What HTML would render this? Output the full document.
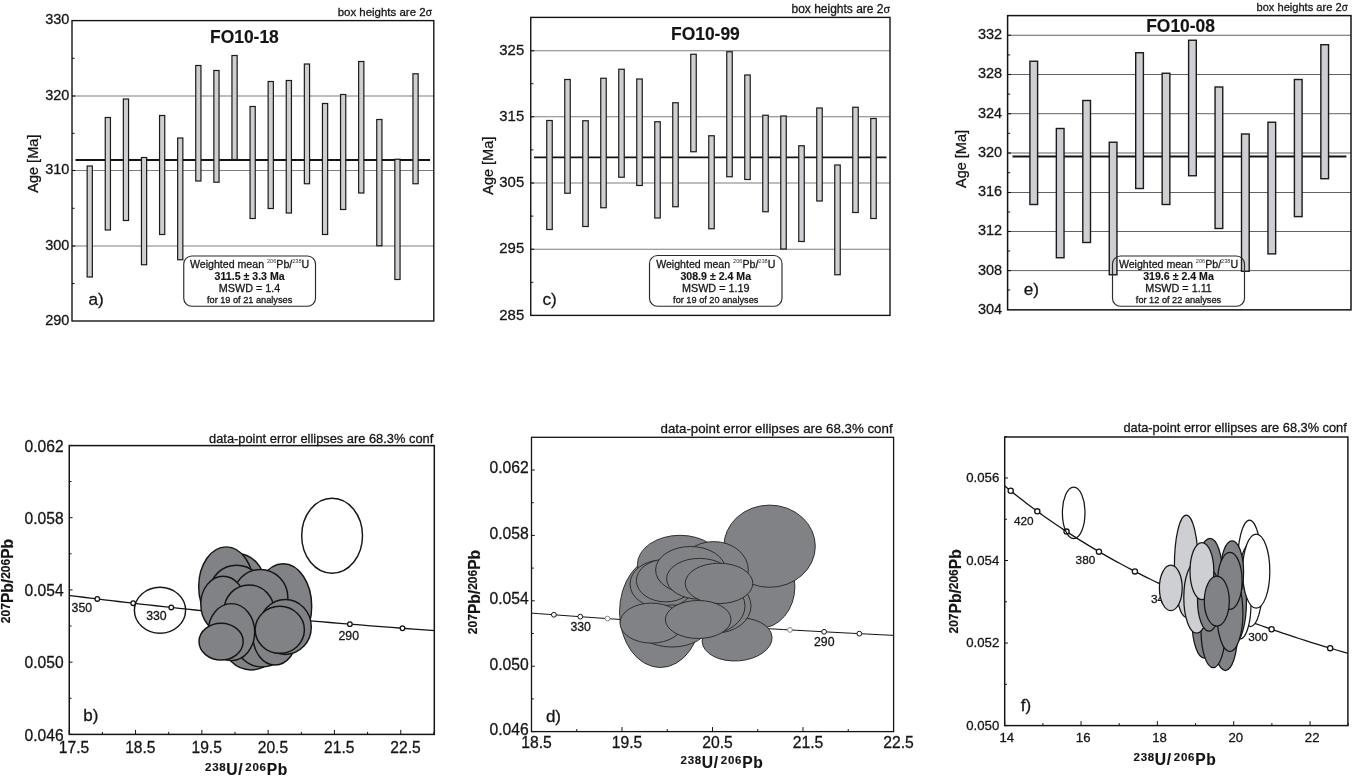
<!DOCTYPE html>
<html lang="en"><head><meta charset="utf-8"><title>U-Pb zircon ages</title>
<style>html,body{margin:0;padding:0;background:#fff}svg{display:block}text{font-family:"Liberation Sans", sans-serif;stroke:#141414;stroke-width:0.28px}text[font-weight="bold"]{stroke-width:0.15px}</style></head><body>
<svg width="1352" height="777" viewBox="0 0 1352 777">
<rect width="1352" height="777" fill="#fff"/>
<g>
<line x1="72" y1="96" x2="433.8" y2="96" stroke="#7e7e7e" stroke-width="1.1"/>
<line x1="72" y1="170.5" x2="433.8" y2="170.5" stroke="#7e7e7e" stroke-width="1.1"/>
<line x1="72" y1="246" x2="433.8" y2="246" stroke="#7e7e7e" stroke-width="1.1"/>
<line x1="72" y1="58.3" x2="74.6" y2="58.3" stroke="#141414" stroke-width="1"/>
<line x1="72" y1="133.3" x2="74.6" y2="133.3" stroke="#141414" stroke-width="1"/>
<line x1="72" y1="208.3" x2="74.6" y2="208.3" stroke="#141414" stroke-width="1"/>
<line x1="72" y1="283.5" x2="74.6" y2="283.5" stroke="#141414" stroke-width="1"/>
<line x1="72" y1="96" x2="75.4" y2="96" stroke="#141414" stroke-width="1.1"/>
<line x1="72" y1="170.5" x2="75.4" y2="170.5" stroke="#141414" stroke-width="1.1"/>
<line x1="72" y1="246" x2="75.4" y2="246" stroke="#141414" stroke-width="1.1"/>
<rect x="183.75" y="256" width="131.75" height="50.25" fill="#fff" stroke="none" stroke-width="1" rx="8"/>
<line x1="75.5" y1="160" x2="430" y2="160" stroke="#141414" stroke-width="1.9"/>
<rect x="87.15" y="166" width="5.2" height="111" fill="#cdcfd2" stroke="#1a1a1a" stroke-width="1.2"/>
<rect x="105.25" y="117.5" width="5.2" height="112.5" fill="#cdcfd2" stroke="#1a1a1a" stroke-width="1.2"/>
<rect x="123.35" y="99" width="5.2" height="121.5" fill="#cdcfd2" stroke="#1a1a1a" stroke-width="1.2"/>
<rect x="141.45" y="157.5" width="5.2" height="107.25" fill="#cdcfd2" stroke="#1a1a1a" stroke-width="1.2"/>
<rect x="159.55" y="115.5" width="5.2" height="119" fill="#cdcfd2" stroke="#1a1a1a" stroke-width="1.2"/>
<rect x="177.65" y="138" width="5.2" height="121.75" fill="#cdcfd2" stroke="#1a1a1a" stroke-width="1.2"/>
<rect x="195.75" y="65.5" width="5.2" height="115.5" fill="#cdcfd2" stroke="#1a1a1a" stroke-width="1.2"/>
<rect x="213.85" y="70.5" width="5.2" height="111.75" fill="#cdcfd2" stroke="#1a1a1a" stroke-width="1.2"/>
<rect x="231.95" y="55.5" width="5.2" height="104" fill="#cdcfd2" stroke="#1a1a1a" stroke-width="1.2"/>
<rect x="250.05" y="106.5" width="5.2" height="112" fill="#cdcfd2" stroke="#1a1a1a" stroke-width="1.2"/>
<rect x="268.15" y="81.5" width="5.2" height="127" fill="#cdcfd2" stroke="#1a1a1a" stroke-width="1.2"/>
<rect x="286.25" y="80.5" width="5.2" height="132.5" fill="#cdcfd2" stroke="#1a1a1a" stroke-width="1.2"/>
<rect x="304.35" y="64" width="5.2" height="119.75" fill="#cdcfd2" stroke="#1a1a1a" stroke-width="1.2"/>
<rect x="322.45" y="103.5" width="5.2" height="131" fill="#cdcfd2" stroke="#1a1a1a" stroke-width="1.2"/>
<rect x="340.55" y="94.5" width="5.2" height="115" fill="#cdcfd2" stroke="#1a1a1a" stroke-width="1.2"/>
<rect x="358.65" y="61.5" width="5.2" height="131.5" fill="#cdcfd2" stroke="#1a1a1a" stroke-width="1.2"/>
<rect x="376.75" y="119.5" width="5.2" height="126.25" fill="#cdcfd2" stroke="#1a1a1a" stroke-width="1.2"/>
<rect x="394.85" y="159.25" width="5.2" height="120.25" fill="#cdcfd2" stroke="#1a1a1a" stroke-width="1.2"/>
<rect x="412.95" y="73.75" width="5.2" height="110" fill="#cdcfd2" stroke="#1a1a1a" stroke-width="1.2"/>
<rect x="72" y="20.6" width="361.8" height="300.4" fill="none" stroke="#141414" stroke-width="1.4"/>
<rect x="183.75" y="256" width="131.75" height="50.25" fill="none" stroke="#2a2a2a" stroke-width="1.15" rx="8"/>
<text x="249.62" y="268" font-size="10.6" text-anchor="middle" fill="#141414">Weighted mean <tspan font-size="5.6" dy="-4.9" stroke="none" fill="#333">206</tspan><tspan dy="4.9">Pb/</tspan><tspan font-size="5.6" dy="-4.9" stroke="none" fill="#333">238</tspan><tspan dy="4.9">U</tspan></text>
<text x="249.62" y="280.4" font-size="10.6" text-anchor="middle" font-weight="bold" fill="#141414">311.5 ± 3.3 Ma</text>
<text x="249.62" y="292.4" font-size="10.8" text-anchor="middle" font-weight="normal" fill="#141414">MSWD = 1.4</text>
<text x="249.62" y="302.8" font-size="9.2" text-anchor="middle" font-weight="normal" fill="#141414">for 19 of 21 analyses</text>
<text x="69.4" y="24.3" font-size="14.5" text-anchor="end" font-weight="normal" fill="#141414">330</text>
<text x="69.4" y="99.8" font-size="14.5" text-anchor="end" font-weight="normal" fill="#141414">320</text>
<text x="69.4" y="174.3" font-size="14.5" text-anchor="end" font-weight="normal" fill="#141414">310</text>
<text x="69.4" y="249.8" font-size="14.5" text-anchor="end" font-weight="normal" fill="#141414">300</text>
<text x="69.4" y="324.8" font-size="14.5" text-anchor="end" font-weight="normal" fill="#141414">290</text>
<text x="244.4" y="43.25" font-size="17.45" text-anchor="middle" font-weight="bold" fill="#141414">FO10-18</text>
<text x="432" y="16" font-size="11.47" text-anchor="end" fill="#141414">box heights are 2<tspan font-size="10.32">σ</tspan></text>
<text x="88.5" y="304.5" font-size="17.2" text-anchor="start" font-weight="normal" fill="#141414">a)</text>
<text transform="translate(38.3 163.7) rotate(-90)" font-size="14.5" text-anchor="middle" fill="#141414">Age [Ma]</text>
</g>
<g>
<line x1="530.75" y1="50.75" x2="890" y2="50.75" stroke="#7e7e7e" stroke-width="1.1"/>
<line x1="530.75" y1="116.75" x2="890" y2="116.75" stroke="#7e7e7e" stroke-width="1.1"/>
<line x1="530.75" y1="183" x2="890" y2="183" stroke="#7e7e7e" stroke-width="1.1"/>
<line x1="530.75" y1="249.25" x2="890" y2="249.25" stroke="#7e7e7e" stroke-width="1.1"/>
<line x1="530.75" y1="83.7" x2="533.35" y2="83.7" stroke="#141414" stroke-width="1"/>
<line x1="530.75" y1="149.9" x2="533.35" y2="149.9" stroke="#141414" stroke-width="1"/>
<line x1="530.75" y1="216.1" x2="533.35" y2="216.1" stroke="#141414" stroke-width="1"/>
<line x1="530.75" y1="282.3" x2="533.35" y2="282.3" stroke="#141414" stroke-width="1"/>
<line x1="530.75" y1="50.75" x2="534.15" y2="50.75" stroke="#141414" stroke-width="1.1"/>
<line x1="530.75" y1="116.75" x2="534.15" y2="116.75" stroke="#141414" stroke-width="1.1"/>
<line x1="530.75" y1="183" x2="534.15" y2="183" stroke="#141414" stroke-width="1.1"/>
<line x1="530.75" y1="249.25" x2="534.15" y2="249.25" stroke="#141414" stroke-width="1.1"/>
<rect x="649.5" y="255.5" width="132.5" height="50.75" fill="#fff" stroke="none" stroke-width="1" rx="8"/>
<line x1="534" y1="157.4" x2="886.5" y2="157.4" stroke="#141414" stroke-width="1.9"/>
<rect x="546.75" y="120.5" width="5.5" height="109" fill="#cdcfd2" stroke="#1a1a1a" stroke-width="1.2"/>
<rect x="564.75" y="79.5" width="5.5" height="113.75" fill="#cdcfd2" stroke="#1a1a1a" stroke-width="1.2"/>
<rect x="582.75" y="120.75" width="5.5" height="105.75" fill="#cdcfd2" stroke="#1a1a1a" stroke-width="1.2"/>
<rect x="600.75" y="78.25" width="5.5" height="129.5" fill="#cdcfd2" stroke="#1a1a1a" stroke-width="1.2"/>
<rect x="618.75" y="69.25" width="5.5" height="108" fill="#cdcfd2" stroke="#1a1a1a" stroke-width="1.2"/>
<rect x="636.75" y="79" width="5.5" height="106.5" fill="#cdcfd2" stroke="#1a1a1a" stroke-width="1.2"/>
<rect x="654.75" y="121.75" width="5.5" height="96.25" fill="#cdcfd2" stroke="#1a1a1a" stroke-width="1.2"/>
<rect x="672.75" y="102.75" width="5.5" height="104" fill="#cdcfd2" stroke="#1a1a1a" stroke-width="1.2"/>
<rect x="690.75" y="54.25" width="5.5" height="97.5" fill="#cdcfd2" stroke="#1a1a1a" stroke-width="1.2"/>
<rect x="708.75" y="135.75" width="5.5" height="93" fill="#cdcfd2" stroke="#1a1a1a" stroke-width="1.2"/>
<rect x="726.75" y="51.75" width="5.5" height="125" fill="#cdcfd2" stroke="#1a1a1a" stroke-width="1.2"/>
<rect x="744.75" y="75" width="5.5" height="104.5" fill="#cdcfd2" stroke="#1a1a1a" stroke-width="1.2"/>
<rect x="762.75" y="115.25" width="5.5" height="96.5" fill="#cdcfd2" stroke="#1a1a1a" stroke-width="1.2"/>
<rect x="780.75" y="116" width="5.5" height="133" fill="#cdcfd2" stroke="#1a1a1a" stroke-width="1.2"/>
<rect x="798.75" y="145.75" width="5.5" height="95.75" fill="#cdcfd2" stroke="#1a1a1a" stroke-width="1.2"/>
<rect x="816.75" y="108" width="5.5" height="93" fill="#cdcfd2" stroke="#1a1a1a" stroke-width="1.2"/>
<rect x="834.75" y="165" width="5.5" height="109.75" fill="#cdcfd2" stroke="#1a1a1a" stroke-width="1.2"/>
<rect x="852.75" y="107.25" width="5.5" height="105.25" fill="#cdcfd2" stroke="#1a1a1a" stroke-width="1.2"/>
<rect x="870.75" y="118.5" width="5.5" height="100" fill="#cdcfd2" stroke="#1a1a1a" stroke-width="1.2"/>
<rect x="530.75" y="17.4" width="359.25" height="298" fill="none" stroke="#141414" stroke-width="1.4"/>
<rect x="649.5" y="255.5" width="132.5" height="50.75" fill="none" stroke="#2a2a2a" stroke-width="1.15" rx="8"/>
<text x="715.75" y="267.75" font-size="10.6" text-anchor="middle" fill="#141414">Weighted mean <tspan font-size="5.6" dy="-4.9" stroke="none" fill="#333">206</tspan><tspan dy="4.9">Pb/</tspan><tspan font-size="5.6" dy="-4.9" stroke="none" fill="#333">238</tspan><tspan dy="4.9">U</tspan></text>
<text x="715.75" y="280.05" font-size="10.6" text-anchor="middle" font-weight="bold" fill="#141414">308.9 ± 2.4 Ma</text>
<text x="715.75" y="292.15" font-size="10.8" text-anchor="middle" font-weight="normal" fill="#141414">MSWD = 1.19</text>
<text x="715.75" y="302.8" font-size="9.2" text-anchor="middle" font-weight="normal" fill="#141414">for 19 of 20 analyses</text>
<text x="524.2" y="54.85" font-size="14.9" text-anchor="end" font-weight="normal" fill="#141414">325</text>
<text x="524.2" y="120.85" font-size="14.9" text-anchor="end" font-weight="normal" fill="#141414">315</text>
<text x="524.2" y="187.1" font-size="14.9" text-anchor="end" font-weight="normal" fill="#141414">305</text>
<text x="524.2" y="253.35" font-size="14.9" text-anchor="end" font-weight="normal" fill="#141414">295</text>
<text x="524.2" y="319.5" font-size="14.9" text-anchor="end" font-weight="normal" fill="#141414">285</text>
<text x="705.4" y="40" font-size="17.45" text-anchor="middle" font-weight="bold" fill="#141414">FO10-99</text>
<text x="890.2" y="13.3" font-size="12" text-anchor="end" fill="#141414">box heights are 2<tspan font-size="10.8">σ</tspan></text>
<text x="542.5" y="305" font-size="17.2" text-anchor="start" font-weight="normal" fill="#141414">c)</text>
<text transform="translate(492.5 165.75) rotate(-90)" font-size="14.5" text-anchor="middle" fill="#141414">Age [Ma]</text>
</g>
<g>
<line x1="1007.6" y1="35.25" x2="1351" y2="35.25" stroke="#5a5a5a" stroke-width="0.95"/>
<line x1="1007.6" y1="74.5" x2="1351" y2="74.5" stroke="#5a5a5a" stroke-width="0.95"/>
<line x1="1007.6" y1="113.7" x2="1351" y2="113.7" stroke="#5a5a5a" stroke-width="0.95"/>
<line x1="1007.6" y1="153" x2="1351" y2="153" stroke="#5a5a5a" stroke-width="0.95"/>
<line x1="1007.6" y1="192.5" x2="1351" y2="192.5" stroke="#5a5a5a" stroke-width="0.95"/>
<line x1="1007.6" y1="231.5" x2="1351" y2="231.5" stroke="#5a5a5a" stroke-width="0.95"/>
<line x1="1007.6" y1="270.6" x2="1351" y2="270.6" stroke="#5a5a5a" stroke-width="0.95"/>
<line x1="1007.6" y1="54.9" x2="1010.2" y2="54.9" stroke="#141414" stroke-width="1"/>
<line x1="1007.6" y1="94.1" x2="1010.2" y2="94.1" stroke="#141414" stroke-width="1"/>
<line x1="1007.6" y1="133.3" x2="1010.2" y2="133.3" stroke="#141414" stroke-width="1"/>
<line x1="1007.6" y1="172.7" x2="1010.2" y2="172.7" stroke="#141414" stroke-width="1"/>
<line x1="1007.6" y1="212" x2="1010.2" y2="212" stroke="#141414" stroke-width="1"/>
<line x1="1007.6" y1="251" x2="1010.2" y2="251" stroke="#141414" stroke-width="1"/>
<line x1="1007.6" y1="290" x2="1010.2" y2="290" stroke="#141414" stroke-width="1"/>
<line x1="1007.6" y1="35.25" x2="1011" y2="35.25" stroke="#141414" stroke-width="1.1"/>
<line x1="1007.6" y1="74.5" x2="1011" y2="74.5" stroke="#141414" stroke-width="1.1"/>
<line x1="1007.6" y1="113.7" x2="1011" y2="113.7" stroke="#141414" stroke-width="1.1"/>
<line x1="1007.6" y1="153" x2="1011" y2="153" stroke="#141414" stroke-width="1.1"/>
<line x1="1007.6" y1="192.5" x2="1011" y2="192.5" stroke="#141414" stroke-width="1.1"/>
<line x1="1007.6" y1="231.5" x2="1011" y2="231.5" stroke="#141414" stroke-width="1.1"/>
<line x1="1007.6" y1="270.6" x2="1011" y2="270.6" stroke="#141414" stroke-width="1.1"/>
<rect x="1112.5" y="256" width="132" height="50.25" fill="none" stroke="none" stroke-width="1" rx="8"/>
<line x1="1012.5" y1="156.5" x2="1346.4" y2="156.5" stroke="#141414" stroke-width="1.9"/>
<rect x="1029.9" y="61.25" width="7.7" height="143.25" fill="#cdcfd2" stroke="#1a1a1a" stroke-width="1.4"/>
<rect x="1056.35" y="128.5" width="7.7" height="129.25" fill="#cdcfd2" stroke="#1a1a1a" stroke-width="1.4"/>
<rect x="1082.8" y="100.5" width="7.7" height="142" fill="#cdcfd2" stroke="#1a1a1a" stroke-width="1.4"/>
<rect x="1109.25" y="142.25" width="7.7" height="132.5" fill="#cdcfd2" stroke="#1a1a1a" stroke-width="1.4"/>
<rect x="1135.7" y="52.75" width="7.7" height="135.75" fill="#cdcfd2" stroke="#1a1a1a" stroke-width="1.4"/>
<rect x="1162.15" y="73.25" width="7.7" height="131.25" fill="#cdcfd2" stroke="#1a1a1a" stroke-width="1.4"/>
<rect x="1188.6" y="40.25" width="7.7" height="135.5" fill="#cdcfd2" stroke="#1a1a1a" stroke-width="1.4"/>
<rect x="1215.05" y="87" width="7.7" height="141.5" fill="#cdcfd2" stroke="#1a1a1a" stroke-width="1.4"/>
<rect x="1241.5" y="134" width="7.7" height="137.25" fill="#cdcfd2" stroke="#1a1a1a" stroke-width="1.4"/>
<rect x="1267.95" y="122.25" width="7.7" height="131.65" fill="#cdcfd2" stroke="#1a1a1a" stroke-width="1.4"/>
<rect x="1294.4" y="79.5" width="7.7" height="137.1" fill="#cdcfd2" stroke="#1a1a1a" stroke-width="1.4"/>
<rect x="1320.85" y="44.7" width="7.7" height="134" fill="#cdcfd2" stroke="#1a1a1a" stroke-width="1.4"/>
<rect x="1007.6" y="15.6" width="343.4" height="294.25" fill="none" stroke="#141414" stroke-width="1.5"/>
<rect x="1112.5" y="256" width="132" height="50.25" fill="none" stroke="#2a2a2a" stroke-width="1.15" rx="8"/>
<text x="1178.5" y="268" font-size="10.6" text-anchor="middle" fill="#141414">Weighted mean <tspan font-size="5.6" dy="-4.9" stroke="none" fill="#333">206</tspan><tspan dy="4.9">Pb/</tspan><tspan font-size="5.6" dy="-4.9" stroke="none" fill="#333">238</tspan><tspan dy="4.9">U</tspan></text>
<text x="1178.5" y="280.05" font-size="10.6" text-anchor="middle" font-weight="bold" fill="#141414">319.6 ± 2.4 Ma</text>
<text x="1178.5" y="292.4" font-size="10.8" text-anchor="middle" font-weight="normal" fill="#141414">MSWD = 1.11</text>
<text x="1178.5" y="303.3" font-size="9.2" text-anchor="middle" font-weight="normal" fill="#141414">for 12 of 22 analyses</text>
<text x="1002.2" y="39.15" font-size="14.5" text-anchor="end" font-weight="normal" fill="#141414">332</text>
<text x="1002.2" y="78.4" font-size="14.5" text-anchor="end" font-weight="normal" fill="#141414">328</text>
<text x="1002.2" y="117.6" font-size="14.5" text-anchor="end" font-weight="normal" fill="#141414">324</text>
<text x="1002.2" y="156.9" font-size="14.5" text-anchor="end" font-weight="normal" fill="#141414">320</text>
<text x="1002.2" y="196.4" font-size="14.5" text-anchor="end" font-weight="normal" fill="#141414">316</text>
<text x="1002.2" y="235.4" font-size="14.5" text-anchor="end" font-weight="normal" fill="#141414">312</text>
<text x="1002.2" y="274.5" font-size="14.5" text-anchor="end" font-weight="normal" fill="#141414">308</text>
<text x="1002.2" y="313.75" font-size="14.5" text-anchor="end" font-weight="normal" fill="#141414">304</text>
<text x="1180.6" y="32" font-size="17.45" text-anchor="middle" font-weight="bold" fill="#141414">FO10-08</text>
<text x="1347.8" y="10.5" font-size="11.1" text-anchor="end" fill="#141414">box heights are 2<tspan font-size="9.99">σ</tspan></text>
<text x="1023.75" y="295" font-size="17.2" text-anchor="start" font-weight="normal" fill="#141414">e)</text>
<text transform="translate(966 159) rotate(-90)" font-size="14.5" text-anchor="middle" fill="#141414">Age [Ma]</text>
</g>
<g>
<clipPath id="clipb"><rect x="69.25" y="445.6" width="365.05" height="288.8"/></clipPath>
<path d="M1013.01 660.2 L991.85 659.42 L971.11 658.64 L950.77 657.86 L930.82 657.08 L911.26 656.29 L892.06 655.51 L873.22 654.72 L854.73 653.94 L836.57 653.15 L818.75 652.36 L801.25 651.57 L784.07 650.78 L767.18 649.99 L750.59 649.19 L734.3 648.4 L718.28 647.61 L702.53 646.81 L687.06 646.01 L671.84 645.22 L656.88 644.42 L642.16 643.62 L627.69 642.82 L613.45 642.02 L599.44 641.22 L585.65 640.41 L572.09 639.61 L558.73 638.8 L545.59 638 L532.65 637.19 L519.91 636.38 L507.36 635.57 L495.01 634.76 L482.83 633.95 L470.85 633.14 L459.03 632.32 L447.4 631.51 L435.93 630.7 L424.63 629.88 L413.49 629.06 L402.51 628.24 L391.68 627.42 L381.01 626.6 L370.49 625.78 L360.12 624.96 L349.88 624.14 L339.79 623.31 L329.83 622.49 L320.01 621.66 L310.32 620.83 L300.76 620 L291.33 619.18 L282.02 618.34 L272.84 617.51 L263.77 616.68 L254.82 615.85 L245.98 615.01 L237.26 614.18 L228.64 613.34 L220.14 612.5 L211.74 611.66 L203.45 610.82 L195.26 609.98 L187.16 609.14 L179.17 608.3 L171.28 607.45 L163.48 606.61 L155.77 605.76 L148.15 604.92 L140.63 604.07 L133.19 603.22 L125.84 602.37 L118.58 601.52 L111.4 600.67 L104.3 599.81 L97.28 598.96 L90.35 598.1 L83.49 597.25 L76.71 596.39 L70 595.53 L63.37 594.67 L56.82 593.81 L50.33 592.95 L43.92 592.08 L37.57 591.22 L31.29 590.35 L25.09 589.49 L18.94 588.62 L12.87 587.75 L6.85 586.88 L0.91 586.01 L-4.98 585.14 L-10.81 584.27 L-16.57 583.39 L-22.28 582.52 L-27.93 581.64 L-33.51 580.77 L-39.05 579.89 L-44.52 579.01 L-49.95 578.13 L-55.31 577.25 L-60.63 576.37 L-65.89 575.48 L-71.1 574.6 L-76.26 573.71 L-81.37 572.82 L-86.42 571.94 L-91.43 571.05 L-96.4 570.16 L-101.31 569.27 L-106.18 568.37 L-111 567.48 L-115.77 566.59 L-120.5 565.69 L-125.19 564.79 L-129.83 563.89 L-134.43 563 L-138.99 562.1 L-143.51 561.19 L-147.98 560.29 L-152.42 559.39 L-156.81 558.48 L-161.16 557.58 L-165.48 556.67 L-169.75 555.76 L-173.99 554.85 L-178.19 553.94 L-182.36 553.03 L-186.48 552.12 L-190.58 551.2 L-194.63 550.29 L-198.65 549.37 L-202.64 548.46 L-206.59 547.54 L-210.51 546.62 L-214.39 545.7 L-218.24 544.78 L-222.06 543.85 L-225.85 542.93 L-229.6 542 L-233.33 541.08 L-237.02 540.15 L-240.68 539.22 L-244.32 538.29 L-247.92 537.36 L-251.49 536.43 L-255.03 535.49 L-258.55 534.56 L-262.04 533.62 L-265.5 532.69 L-268.93 531.75 L-272.33 530.81 L-275.71 529.87 L-279.06 528.93 L-282.38 527.99 L-285.68 527.04 L-288.95 526.1 L-292.2 525.15 L-295.42 524.2 L-298.61 523.25 L-301.79 522.3" fill="none" stroke="#141414" stroke-width="1.3" clip-path="url(#clipb)"/>
<g clip-path="url(#clipb)">
<circle cx="97.28" cy="598.96" r="2.3" fill="#fff" stroke="#141414" stroke-width="1.3"/>
<circle cx="133.19" cy="603.22" r="2.3" fill="#fff" stroke="#141414" stroke-width="1.3"/>
<circle cx="171.28" cy="607.45" r="2.3" fill="#fff" stroke="#141414" stroke-width="1.3"/>
<circle cx="211.74" cy="611.66" r="2.3" fill="#fff" stroke="#141414" stroke-width="1.3"/>
<circle cx="254.82" cy="615.85" r="2.3" fill="#fff" stroke="#141414" stroke-width="1.3"/>
<circle cx="300.76" cy="620" r="2.3" fill="#fff" stroke="#141414" stroke-width="1.3"/>
<circle cx="349.88" cy="624.14" r="2.3" fill="#fff" stroke="#141414" stroke-width="1.3"/>
<circle cx="402.51" cy="628.24" r="2.3" fill="#fff" stroke="#141414" stroke-width="1.3"/>
</g>
<text x="71.6" y="611.6" font-size="12.3" text-anchor="start" font-weight="normal" fill="#141414">350</text>
<text x="146.2" y="619.9" font-size="12.3" text-anchor="start" font-weight="normal" fill="#141414">330</text>
<text x="338.5" y="639.8" font-size="12.3" text-anchor="start" font-weight="normal" fill="#141414">290</text>
<ellipse cx="332.1" cy="535.75" rx="30.4" ry="37.5" fill="none" stroke="#151515" stroke-width="1.45"/>
<ellipse cx="160" cy="610.25" rx="25.6" ry="23" fill="none" stroke="#151515" stroke-width="1.45"/>
<ellipse cx="236.6" cy="583.5" rx="28" ry="30" fill="#808285" stroke="#151515" stroke-width="1.45"/>
<ellipse cx="226.2" cy="586.6" rx="27.5" ry="39.7" fill="#808285" stroke="#151515" stroke-width="1.45"/>
<ellipse cx="283.2" cy="606.3" rx="28.5" ry="42.5" fill="#808285" stroke="#151515" stroke-width="1.45"/>
<ellipse cx="236.6" cy="589.7" rx="26" ry="24.5" fill="#808285" stroke="#151515" stroke-width="1.45"/>
<ellipse cx="260.4" cy="598" rx="27.5" ry="28.5" fill="#808285" stroke="#151515" stroke-width="1.45"/>
<ellipse cx="251.1" cy="641.4" rx="28" ry="28.5" fill="#808285" stroke="#151515" stroke-width="1.45"/>
<ellipse cx="262" cy="640" rx="27" ry="27" fill="#808285" stroke="#151515" stroke-width="1.45"/>
<ellipse cx="275" cy="636" rx="22" ry="29" fill="#808285" stroke="#151515" stroke-width="1.45"/>
<ellipse cx="223.1" cy="604.2" rx="22.3" ry="28" fill="#808285" stroke="#151515" stroke-width="1.45"/>
<ellipse cx="249" cy="610.4" rx="25" ry="25.5" fill="#808285" stroke="#151515" stroke-width="1.45"/>
<ellipse cx="285.3" cy="626.9" rx="26" ry="27.5" fill="#808285" stroke="#151515" stroke-width="1.45"/>
<ellipse cx="231.4" cy="632.1" rx="23.3" ry="28.5" fill="#808285" stroke="#151515" stroke-width="1.45"/>
<ellipse cx="279.8" cy="629.8" rx="24.6" ry="23.5" fill="#808285" stroke="#151515" stroke-width="1.45"/>
<ellipse cx="221.1" cy="641.6" rx="22.1" ry="18.4" fill="#808285" stroke="#151515" stroke-width="1.45"/>
<line x1="69.25" y1="734.4" x2="69.25" y2="729.9" stroke="#141414" stroke-width="1"/>
<line x1="102.4" y1="734.4" x2="102.4" y2="731.9" stroke="#141414" stroke-width="1"/>
<line x1="135.55" y1="734.4" x2="135.55" y2="729.9" stroke="#141414" stroke-width="1"/>
<line x1="168.7" y1="734.4" x2="168.7" y2="731.9" stroke="#141414" stroke-width="1"/>
<line x1="201.85" y1="734.4" x2="201.85" y2="729.9" stroke="#141414" stroke-width="1"/>
<line x1="235" y1="734.4" x2="235" y2="731.9" stroke="#141414" stroke-width="1"/>
<line x1="268.15" y1="734.4" x2="268.15" y2="729.9" stroke="#141414" stroke-width="1"/>
<line x1="301.3" y1="734.4" x2="301.3" y2="731.9" stroke="#141414" stroke-width="1"/>
<line x1="334.45" y1="734.4" x2="334.45" y2="729.9" stroke="#141414" stroke-width="1"/>
<line x1="367.6" y1="734.4" x2="367.6" y2="731.9" stroke="#141414" stroke-width="1"/>
<line x1="400.75" y1="734.4" x2="400.75" y2="729.9" stroke="#141414" stroke-width="1"/>
<line x1="433.9" y1="734.4" x2="433.9" y2="731.9" stroke="#141414" stroke-width="1"/>
<line x1="69.25" y1="734.4" x2="72.55" y2="734.4" stroke="#141414" stroke-width="1"/>
<line x1="69.25" y1="698.27" x2="71.55" y2="698.27" stroke="#141414" stroke-width="1"/>
<line x1="69.25" y1="662.15" x2="72.55" y2="662.15" stroke="#141414" stroke-width="1"/>
<line x1="69.25" y1="626.02" x2="71.55" y2="626.02" stroke="#141414" stroke-width="1"/>
<line x1="69.25" y1="589.9" x2="72.55" y2="589.9" stroke="#141414" stroke-width="1"/>
<line x1="69.25" y1="553.77" x2="71.55" y2="553.77" stroke="#141414" stroke-width="1"/>
<line x1="69.25" y1="517.65" x2="72.55" y2="517.65" stroke="#141414" stroke-width="1"/>
<line x1="69.25" y1="481.52" x2="71.55" y2="481.52" stroke="#141414" stroke-width="1"/>
<line x1="69.25" y1="445.4" x2="72.55" y2="445.4" stroke="#141414" stroke-width="1"/>
<rect x="69.25" y="445.6" width="365.05" height="288.8" fill="none" stroke="#141414" stroke-width="1.5"/>
<text x="74.05" y="753" font-size="15.6" text-anchor="middle" font-weight="normal" fill="#141414">17.5</text>
<text x="140.35" y="753" font-size="15.6" text-anchor="middle" font-weight="normal" fill="#141414">18.5</text>
<text x="206.65" y="753" font-size="15.6" text-anchor="middle" font-weight="normal" fill="#141414">19.5</text>
<text x="272.95" y="753" font-size="15.6" text-anchor="middle" font-weight="normal" fill="#141414">20.5</text>
<text x="339.25" y="753" font-size="15.6" text-anchor="middle" font-weight="normal" fill="#141414">21.5</text>
<text x="405.55" y="753" font-size="15.6" text-anchor="middle" font-weight="normal" fill="#141414">22.5</text>
<text x="63.6" y="451.5" font-size="15.6" text-anchor="end" font-weight="normal" fill="#141414">0.062</text>
<text x="63.6" y="523.75" font-size="15.6" text-anchor="end" font-weight="normal" fill="#141414">0.058</text>
<text x="63.6" y="596" font-size="15.6" text-anchor="end" font-weight="normal" fill="#141414">0.054</text>
<text x="63.6" y="668.25" font-size="15.6" text-anchor="end" font-weight="normal" fill="#141414">0.050</text>
<text x="63.6" y="740.5" font-size="15.6" text-anchor="end" font-weight="normal" fill="#141414">0.046</text>
<text x="433.25" y="442.5" font-size="12.85" text-anchor="end" font-weight="normal" fill="#141414">data-point error ellipses are 68.3% conf</text>
<text x="83.25" y="721.25" font-size="17" text-anchor="start" font-weight="normal" fill="#141414">b)</text>
<text x="246.5" y="774.9" font-size="15.6" font-weight="bold" text-anchor="middle" fill="#141414" letter-spacing="0.7"><tspan font-size="11.5" dy="-4.2">238</tspan><tspan dy="4.2">U/</tspan><tspan font-size="11.5" dy="-4.2" dx="2">206</tspan><tspan dy="4.2">Pb</tspan></text>
<text transform="translate(13 581) rotate(-90)" font-size="15.6" font-weight="bold" text-anchor="middle" fill="#141414" letter-spacing="0"><tspan font-size="12" dy="-3.5">207</tspan><tspan dy="3.5">Pb/</tspan><tspan font-size="12" dy="-3.5">206</tspan><tspan dy="3.5">Pb</tspan></text>
</g>
<g>
<clipPath id="clipd"><rect x="531.5" y="437.3" width="362.1" height="294.3"/></clipPath>
<path d="M1729.24 664.44 L1700.36 663.73 L1672.04 663.02 L1644.28 662.32 L1617.05 661.61 L1590.34 660.9 L1564.14 660.19 L1538.42 659.48 L1513.18 658.76 L1488.4 658.05 L1464.08 657.34 L1440.19 656.62 L1416.73 655.91 L1393.68 655.19 L1371.04 654.47 L1348.79 653.75 L1326.93 653.04 L1305.44 652.32 L1284.31 651.59 L1263.54 650.87 L1243.12 650.15 L1223.03 649.43 L1203.27 648.7 L1183.83 647.98 L1164.71 647.25 L1145.89 646.52 L1127.38 645.8 L1109.15 645.07 L1091.21 644.34 L1073.54 643.61 L1056.15 642.87 L1039.03 642.14 L1022.16 641.41 L1005.55 640.67 L989.18 639.94 L973.06 639.2 L957.17 638.47 L941.52 637.73 L926.09 636.99 L910.89 636.25 L895.9 635.51 L881.13 634.77 L866.56 634.02 L852.2 633.28 L838.03 632.54 L824.07 631.79 L810.29 631.04 L796.7 630.3 L783.29 629.55 L770.07 628.8 L757.02 628.05 L744.14 627.3 L731.44 626.55 L718.9 625.8 L706.52 625.04 L694.3 624.29 L682.24 623.53 L670.33 622.78 L658.57 622.02 L646.96 621.26 L635.5 620.5 L624.18 619.74 L613 618.98 L601.95 618.22 L591.04 617.45 L580.27 616.69 L569.62 615.93 L559.1 615.16 L548.7 614.39 L538.43 613.63 L528.28 612.86 L518.25 612.09 L508.33 611.32 L498.53 610.54 L488.85 609.77 L479.27 609 L469.8 608.22 L460.44 607.45 L451.18 606.67 L442.03 605.9 L432.98 605.12 L424.03 604.34 L415.17 603.56 L406.42 602.78 L397.76 601.99 L389.19 601.21 L380.72 600.43 L372.33 599.64 L364.04 598.86 L355.83 598.07 L347.71 597.28 L339.67 596.49 L331.72 595.7 L323.85 594.91 L316.06 594.12 L308.35 593.33 L300.73 592.53 L293.17 591.74 L285.7 590.94 L278.3 590.15 L270.97 589.35 L263.72 588.55 L256.53 587.75 L249.42 586.95 L242.38 586.15 L235.41 585.34 L228.5 584.54 L221.66 583.73 L214.89 582.93 L208.18 582.12 L201.54 581.31 L194.96 580.51 L188.44 579.7 L181.98 578.89 L175.59 578.07 L169.25 577.26 L162.97 576.45 L156.75 575.63 L150.58 574.82 L144.48 574 L138.42 573.18 L132.43 572.36 L126.48 571.54 L120.59 570.72 L114.76 569.9 L108.97 569.08 L103.24 568.25 L97.55 567.43 L91.92 566.6 L86.34 565.77 L80.8 564.95 L75.31 564.12 L69.87 563.29 L64.48 562.45 L59.13 561.62 L53.83 560.79 L48.57 559.95 L43.36 559.12 L38.19 558.28 L33.06 557.44 L27.98 556.61 L22.94 555.77 L17.94 554.93 L12.98 554.08 L8.06 553.24 L3.19 552.4 L-1.65 551.55 L-6.45 550.71 L-11.21 549.86 L-15.93 549.01 L-20.61 548.16 L-25.26 547.31 L-29.87 546.46 L-34.44 545.61 L-38.98 544.76 L-43.48 543.9 L-47.95 543.05 L-52.38 542.19 L-56.78 541.33 L-61.14 540.47 L-65.47 539.61" fill="none" stroke="#141414" stroke-width="1" clip-path="url(#clipd)"/>
<g clip-path="url(#clipd)">
<circle cx="528.28" cy="612.86" r="2.4" fill="#fff" stroke="#141414" stroke-width="1"/>
<circle cx="553.89" cy="614.78" r="2.4" fill="#fff" stroke="#141414" stroke-width="1"/>
<circle cx="580.27" cy="616.69" r="2.4" fill="#fff" stroke="#141414" stroke-width="1"/>
<circle cx="607.46" cy="618.6" r="2.4" fill="#fff" stroke="#888" stroke-width="1"/>
<circle cx="635.5" cy="620.5" r="2.4" fill="#fff" stroke="#888" stroke-width="1"/>
<circle cx="664.43" cy="622.4" r="2.4" fill="#fff" stroke="#888" stroke-width="1"/>
<circle cx="694.3" cy="624.29" r="2.4" fill="#fff" stroke="#888" stroke-width="1"/>
<circle cx="725.15" cy="626.17" r="2.4" fill="#fff" stroke="#888" stroke-width="1"/>
<circle cx="757.02" cy="628.05" r="2.4" fill="#fff" stroke="#888" stroke-width="1"/>
<circle cx="789.97" cy="629.92" r="2.4" fill="#fff" stroke="#888" stroke-width="1"/>
<circle cx="824.07" cy="631.79" r="2.4" fill="#fff" stroke="#141414" stroke-width="1"/>
<circle cx="859.35" cy="633.65" r="2.4" fill="#fff" stroke="#141414" stroke-width="1"/>
<circle cx="895.9" cy="635.51" r="2.4" fill="#fff" stroke="#141414" stroke-width="1"/>
</g>
<text x="570.4" y="631" font-size="12.3" text-anchor="start" font-weight="normal" fill="#141414">330</text>
<text x="814" y="646.2" font-size="12.3" text-anchor="start" font-weight="normal" fill="#141414">290</text>
<ellipse cx="660.4" cy="612" rx="40.9" ry="55.5" fill="#808285" stroke="#2a2a2a" stroke-width="0.95"/>
<ellipse cx="759.9" cy="586.6" rx="35" ry="41.7" fill="#808285" stroke="#2a2a2a" stroke-width="0.95"/>
<ellipse cx="769.6" cy="546.2" rx="45.7" ry="41.1" fill="#808285" stroke="#2a2a2a" stroke-width="0.95"/>
<ellipse cx="737.1" cy="639.4" rx="35" ry="21.5" fill="#808285" stroke="#2a2a2a" stroke-width="0.95" transform="rotate(-4 737.1 639.4)"/>
<ellipse cx="680" cy="564.6" rx="42.6" ry="29.3" fill="#808285" stroke="#2a2a2a" stroke-width="0.95"/>
<ellipse cx="713.7" cy="570" rx="34.6" ry="28.4" fill="#808285" stroke="#2a2a2a" stroke-width="0.95"/>
<ellipse cx="716" cy="606" rx="35" ry="27" fill="#808285" stroke="#2a2a2a" stroke-width="0.95"/>
<ellipse cx="708" cy="606" rx="37" ry="28" fill="#808285" stroke="#2a2a2a" stroke-width="0.95"/>
<ellipse cx="662" cy="584" rx="32" ry="24" fill="#808285" stroke="#2a2a2a" stroke-width="0.95"/>
<ellipse cx="665.7" cy="580.6" rx="29.3" ry="21.3" fill="#808285" stroke="#2a2a2a" stroke-width="0.95"/>
<ellipse cx="690.6" cy="570" rx="35" ry="23.5" fill="#808285" stroke="#2a2a2a" stroke-width="0.95"/>
<ellipse cx="699.5" cy="578.8" rx="32.9" ry="20.4" fill="#808285" stroke="#2a2a2a" stroke-width="0.95"/>
<ellipse cx="672" cy="626" rx="36" ry="21" fill="#808285" stroke="#2a2a2a" stroke-width="0.95"/>
<ellipse cx="719" cy="583.4" rx="33.8" ry="20.2" fill="#808285" stroke="#2a2a2a" stroke-width="0.95"/>
<ellipse cx="651.5" cy="623.1" rx="31.5" ry="20" fill="#808285" stroke="#2a2a2a" stroke-width="0.95"/>
<ellipse cx="698.2" cy="619.5" rx="32.8" ry="19" fill="#808285" stroke="#2a2a2a" stroke-width="0.95"/>
<line x1="531.5" y1="731.6" x2="531.5" y2="727.1" stroke="#141414" stroke-width="1"/>
<line x1="576.75" y1="731.6" x2="576.75" y2="729.1" stroke="#141414" stroke-width="1"/>
<line x1="622" y1="731.6" x2="622" y2="727.1" stroke="#141414" stroke-width="1"/>
<line x1="667.25" y1="731.6" x2="667.25" y2="729.1" stroke="#141414" stroke-width="1"/>
<line x1="712.5" y1="731.6" x2="712.5" y2="727.1" stroke="#141414" stroke-width="1"/>
<line x1="757.75" y1="731.6" x2="757.75" y2="729.1" stroke="#141414" stroke-width="1"/>
<line x1="803" y1="731.6" x2="803" y2="727.1" stroke="#141414" stroke-width="1"/>
<line x1="848.25" y1="731.6" x2="848.25" y2="729.1" stroke="#141414" stroke-width="1"/>
<line x1="893.5" y1="731.6" x2="893.5" y2="727.1" stroke="#141414" stroke-width="1"/>
<line x1="531.5" y1="731.6" x2="534.8" y2="731.6" stroke="#141414" stroke-width="1"/>
<line x1="531.5" y1="698.9" x2="533.8" y2="698.9" stroke="#141414" stroke-width="1"/>
<line x1="531.5" y1="666.2" x2="534.8" y2="666.2" stroke="#141414" stroke-width="1"/>
<line x1="531.5" y1="633.5" x2="533.8" y2="633.5" stroke="#141414" stroke-width="1"/>
<line x1="531.5" y1="600.8" x2="534.8" y2="600.8" stroke="#141414" stroke-width="1"/>
<line x1="531.5" y1="568.1" x2="533.8" y2="568.1" stroke="#141414" stroke-width="1"/>
<line x1="531.5" y1="535.4" x2="534.8" y2="535.4" stroke="#141414" stroke-width="1"/>
<line x1="531.5" y1="502.7" x2="533.8" y2="502.7" stroke="#141414" stroke-width="1"/>
<line x1="531.5" y1="470" x2="534.8" y2="470" stroke="#141414" stroke-width="1"/>
<rect x="531.5" y="437.3" width="362.1" height="294.3" fill="none" stroke="#141414" stroke-width="1.3"/>
<text x="536.5" y="748" font-size="15.7" text-anchor="middle" font-weight="normal" fill="#141414">18.5</text>
<text x="627" y="748" font-size="15.7" text-anchor="middle" font-weight="normal" fill="#141414">19.5</text>
<text x="717.5" y="748" font-size="15.7" text-anchor="middle" font-weight="normal" fill="#141414">20.5</text>
<text x="808" y="748" font-size="15.7" text-anchor="middle" font-weight="normal" fill="#141414">21.5</text>
<text x="898.5" y="748" font-size="15.7" text-anchor="middle" font-weight="normal" fill="#141414">22.5</text>
<text x="528.8" y="473.4" font-size="15.7" text-anchor="end" font-weight="normal" fill="#141414">0.062</text>
<text x="528.8" y="538.8" font-size="15.7" text-anchor="end" font-weight="normal" fill="#141414">0.058</text>
<text x="528.8" y="604.2" font-size="15.7" text-anchor="end" font-weight="normal" fill="#141414">0.054</text>
<text x="528.8" y="669.6" font-size="15.7" text-anchor="end" font-weight="normal" fill="#141414">0.050</text>
<text x="528.8" y="735" font-size="15.7" text-anchor="end" font-weight="normal" fill="#141414">0.046</text>
<text x="892.6" y="433.4" font-size="13.3" text-anchor="end" font-weight="normal" fill="#141414">data-point error ellipses are 68.3% conf</text>
<text x="545.9" y="721.8" font-size="17" text-anchor="start" font-weight="normal" fill="#141414">d)</text>
<text x="722" y="767.8" font-size="15.6" font-weight="bold" text-anchor="middle" fill="#141414" letter-spacing="0.7"><tspan font-size="11.5" dy="-4.2">238</tspan><tspan dy="4.2">U/</tspan><tspan font-size="11.5" dy="-4.2" dx="2">206</tspan><tspan dy="4.2">Pb</tspan></text>
<text transform="translate(480.3 592) rotate(-90)" font-size="15.6" font-weight="bold" text-anchor="middle" fill="#141414" letter-spacing="0"><tspan font-size="12" dy="-3.5">207</tspan><tspan dy="3.5">Pb/</tspan><tspan font-size="12" dy="-3.5">206</tspan><tspan dy="3.5">Pb</tspan></text>
</g>
<g>
<clipPath id="clipf"><rect x="1004.7" y="437" width="343.2" height="288.6"/></clipPath>
<path d="M1681.63 721.15 L1669.45 719.37 L1657.51 717.58 L1645.8 715.8 L1634.32 714.01 L1623.05 712.22 L1612 710.42 L1601.15 708.63 L1590.51 706.83 L1580.06 705.03 L1569.8 703.23 L1559.72 701.42 L1549.83 699.62 L1540.11 697.81 L1530.56 696 L1521.17 694.19 L1511.95 692.37 L1502.89 690.55 L1493.98 688.73 L1485.22 686.91 L1476.6 685.09 L1468.13 683.26 L1459.8 681.43 L1451.6 679.6 L1443.53 677.77 L1435.6 675.93 L1427.79 674.1 L1420.1 672.26 L1412.53 670.41 L1405.08 668.57 L1397.75 666.72 L1390.52 664.87 L1383.41 663.02 L1376.4 661.17 L1369.5 659.31 L1362.7 657.45 L1356 655.59 L1349.4 653.73 L1342.89 651.87 L1336.48 650 L1330.16 648.13 L1323.93 646.26 L1317.78 644.38 L1311.72 642.51 L1305.75 640.63 L1299.86 638.75 L1294.05 636.86 L1288.32 634.98 L1282.66 633.09 L1277.09 631.2 L1271.58 629.3 L1266.15 627.41 L1260.79 625.51 L1255.5 623.61 L1250.28 621.71 L1245.13 619.81 L1240.04 617.9 L1235.02 615.99 L1230.06 614.08 L1225.16 612.16 L1220.33 610.25 L1215.55 608.33 L1210.84 606.41 L1206.18 604.48 L1201.58 602.56 L1197.03 600.63 L1192.54 598.7 L1188.11 596.77 L1183.72 594.83 L1179.39 592.89 L1175.11 590.95 L1170.88 589.01 L1166.69 587.06 L1162.56 585.12 L1158.47 583.17 L1154.44 581.21 L1150.44 579.26 L1146.49 577.3 L1142.59 575.34 L1138.73 573.38 L1134.91 571.42 L1131.14 569.45 L1127.4 567.48 L1123.71 565.51 L1120.06 563.53 L1116.44 561.56 L1112.87 559.58 L1109.33 557.6 L1105.83 555.61 L1102.37 553.63 L1098.95 551.64 L1095.56 549.65 L1092.2 547.65 L1088.89 545.66 L1085.6 543.66 L1082.35 541.66 L1079.13 539.65 L1075.95 537.65 L1072.79 535.64 L1069.67 533.63 L1066.58 531.61 L1063.52 529.6 L1060.49 527.58 L1057.49 525.56 L1054.52 523.53 L1051.58 521.51 L1048.67 519.48 L1045.79 517.45 L1042.93 515.41 L1040.1 513.37 L1037.3 511.34 L1034.52 509.29 L1031.77 507.25 L1029.05 505.2 L1026.35 503.15 L1023.68 501.1 L1021.03 499.05 L1018.41 496.99 L1015.81 494.93 L1013.23 492.87 L1010.68 490.81 L1008.15 488.74 L1005.64 486.67 L1003.16 484.6 L1000.7 482.52 L998.26 480.44 L995.84 478.36 L993.44 476.28 L991.06 474.2 L988.71 472.11 L986.37 470.02 L984.06 467.92 L981.76 465.83 L979.49 463.73 L977.23 461.63 L975 459.53 L972.78 457.42 L970.58 455.31 L968.4 453.2 L966.24 451.08 L964.1 448.97 L961.97 446.85 L959.86 444.73 L957.77 442.6 L955.7 440.47 L953.64 438.34 L951.6 436.21 L949.58 434.08 L947.57 431.94 L945.58 429.8 L943.6 427.65 L941.64 425.51 L939.7 423.36 L937.77 421.21 L935.85 419.05 L933.96 416.9 L932.07 414.74 L930.2 412.58 L928.35 410.41 L926.51 408.24 L924.68 406.07" fill="none" stroke="#141414" stroke-width="1.3" clip-path="url(#clipf)"/>
<g clip-path="url(#clipf)">
<circle cx="1010.68" cy="490.81" r="2.6" fill="#fff" stroke="#141414" stroke-width="1.3"/>
<circle cx="1037.3" cy="511.34" r="2.6" fill="#fff" stroke="#141414" stroke-width="1.3"/>
<circle cx="1066.58" cy="531.61" r="2.6" fill="#fff" stroke="#141414" stroke-width="1.3"/>
<circle cx="1098.95" cy="551.64" r="2.6" fill="#fff" stroke="#141414" stroke-width="1.3"/>
<circle cx="1134.91" cy="571.42" r="2.6" fill="#fff" stroke="#141414" stroke-width="1.3"/>
<circle cx="1175.11" cy="590.95" r="2.6" fill="#fff" stroke="#141414" stroke-width="1.3"/>
<circle cx="1220.33" cy="610.25" r="2.6" fill="#fff" stroke="#141414" stroke-width="1.3"/>
<circle cx="1271.58" cy="629.3" r="2.6" fill="#fff" stroke="#141414" stroke-width="1.3"/>
<circle cx="1330.16" cy="648.13" r="2.6" fill="#fff" stroke="#141414" stroke-width="1.3"/>
</g>
<text x="1014" y="524.8" font-size="11.8" text-anchor="start" font-weight="normal" fill="#141414">420</text>
<text x="1075.6" y="563.6" font-size="11.8" text-anchor="start" font-weight="normal" fill="#141414">380</text>
<text x="1151" y="602.8" font-size="11.8" text-anchor="start" font-weight="normal" fill="#141414">340</text>
<ellipse cx="1073.7" cy="512.8" rx="11.3" ry="25.8" fill="none" stroke="#151515" stroke-width="1.25"/>
<ellipse cx="1249.5" cy="570" rx="12.5" ry="50" fill="#ffffff" stroke="#151515" stroke-width="1.25"/>
<ellipse cx="1250.5" cy="585" rx="12" ry="41.5" fill="#ffffff" stroke="#151515" stroke-width="1.25"/>
<ellipse cx="1240" cy="604" rx="11" ry="35" fill="#ffffff" stroke="#151515" stroke-width="1.25"/>
<ellipse cx="1233.8" cy="600" rx="12.7" ry="44" fill="#808285" stroke="#151515" stroke-width="1.25"/>
<ellipse cx="1256.2" cy="571.2" rx="13.6" ry="37" fill="#ffffff" stroke="#151515" stroke-width="1.25"/>
<ellipse cx="1204.4" cy="622" rx="12.3" ry="36" fill="#808285" stroke="#151515" stroke-width="1.25"/>
<ellipse cx="1225.4" cy="634" rx="12" ry="36.5" fill="#808285" stroke="#151515" stroke-width="1.25"/>
<ellipse cx="1213.2" cy="630" rx="12.2" ry="37.7" fill="#808285" stroke="#151515" stroke-width="1.25"/>
<ellipse cx="1229.9" cy="613" rx="13" ry="38.6" fill="#808285" stroke="#151515" stroke-width="1.25"/>
<ellipse cx="1186.3" cy="566" rx="11.9" ry="51" fill="#cdcfd2" stroke="#151515" stroke-width="1.25"/>
<ellipse cx="1196.6" cy="597.5" rx="12.8" ry="35.7" fill="#cdcfd2" stroke="#151515" stroke-width="1.25"/>
<ellipse cx="1210" cy="575" rx="12.5" ry="36.7" fill="#808285" stroke="#151515" stroke-width="1.25"/>
<ellipse cx="1209" cy="600" rx="11.5" ry="31" fill="#808285" stroke="#151515" stroke-width="1.25"/>
<ellipse cx="1232.1" cy="572" rx="11.5" ry="31.2" fill="#808285" stroke="#151515" stroke-width="1.25"/>
<ellipse cx="1201.9" cy="571" rx="11.9" ry="28.5" fill="#cdcfd2" stroke="#151515" stroke-width="1.25"/>
<ellipse cx="1170.8" cy="587.9" rx="11.4" ry="22.7" fill="#cdcfd2" stroke="#151515" stroke-width="1.25"/>
<ellipse cx="1229.9" cy="580.9" rx="12.2" ry="28.5" fill="#808285" stroke="#151515" stroke-width="1.25"/>
<ellipse cx="1216.8" cy="601.1" rx="12.5" ry="25" fill="#808285" stroke="#151515" stroke-width="1.25"/>
<text x="1248.2" y="641.3" font-size="11.8" text-anchor="start" font-weight="normal" fill="#141414">300</text>
<line x1="1004.7" y1="725.6" x2="1004.7" y2="721.1" stroke="#141414" stroke-width="1"/>
<line x1="1042.87" y1="725.6" x2="1042.87" y2="723.1" stroke="#141414" stroke-width="1"/>
<line x1="1081.04" y1="725.6" x2="1081.04" y2="721.1" stroke="#141414" stroke-width="1"/>
<line x1="1119.21" y1="725.6" x2="1119.21" y2="723.1" stroke="#141414" stroke-width="1"/>
<line x1="1157.38" y1="725.6" x2="1157.38" y2="721.1" stroke="#141414" stroke-width="1"/>
<line x1="1195.55" y1="725.6" x2="1195.55" y2="723.1" stroke="#141414" stroke-width="1"/>
<line x1="1233.72" y1="725.6" x2="1233.72" y2="721.1" stroke="#141414" stroke-width="1"/>
<line x1="1271.89" y1="725.6" x2="1271.89" y2="723.1" stroke="#141414" stroke-width="1"/>
<line x1="1310.06" y1="725.6" x2="1310.06" y2="721.1" stroke="#141414" stroke-width="1"/>
<line x1="1348.23" y1="725.6" x2="1348.23" y2="723.1" stroke="#141414" stroke-width="1"/>
<line x1="1004.7" y1="725.6" x2="1008" y2="725.6" stroke="#141414" stroke-width="1"/>
<line x1="1004.7" y1="684.33" x2="1007" y2="684.33" stroke="#141414" stroke-width="1"/>
<line x1="1004.7" y1="643.06" x2="1008" y2="643.06" stroke="#141414" stroke-width="1"/>
<line x1="1004.7" y1="601.79" x2="1007" y2="601.79" stroke="#141414" stroke-width="1"/>
<line x1="1004.7" y1="560.52" x2="1008" y2="560.52" stroke="#141414" stroke-width="1"/>
<line x1="1004.7" y1="519.25" x2="1007" y2="519.25" stroke="#141414" stroke-width="1"/>
<line x1="1004.7" y1="477.98" x2="1008" y2="477.98" stroke="#141414" stroke-width="1"/>
<line x1="1004.7" y1="436.71" x2="1007" y2="436.71" stroke="#141414" stroke-width="1"/>
<rect x="1004.7" y="437" width="343.2" height="288.6" fill="none" stroke="#141414" stroke-width="1.45"/>
<text x="1006.8" y="742" font-size="13.2" text-anchor="middle" font-weight="normal" fill="#141414">14</text>
<text x="1083.14" y="742" font-size="13.2" text-anchor="middle" font-weight="normal" fill="#141414">16</text>
<text x="1159.48" y="742" font-size="13.2" text-anchor="middle" font-weight="normal" fill="#141414">18</text>
<text x="1235.82" y="742" font-size="13.2" text-anchor="middle" font-weight="normal" fill="#141414">20</text>
<text x="1312.16" y="742" font-size="13.2" text-anchor="middle" font-weight="normal" fill="#141414">22</text>
<text x="999.3" y="482.38" font-size="13.2" text-anchor="end" font-weight="normal" fill="#141414">0.056</text>
<text x="999.3" y="564.92" font-size="13.2" text-anchor="end" font-weight="normal" fill="#141414">0.054</text>
<text x="999.3" y="647.46" font-size="13.2" text-anchor="end" font-weight="normal" fill="#141414">0.052</text>
<text x="999.3" y="730" font-size="13.2" text-anchor="end" font-weight="normal" fill="#141414">0.050</text>
<text x="1346.8" y="431.8" font-size="12.8" text-anchor="end" font-weight="normal" fill="#141414">data-point error ellipses are 68.3% conf</text>
<text x="1020.75" y="710.75" font-size="17" text-anchor="start" font-weight="normal" fill="#141414">f)</text>
<text x="1175" y="765.4" font-size="15.6" font-weight="bold" text-anchor="middle" fill="#141414" letter-spacing="0.7"><tspan font-size="11.5" dy="-4.2">238</tspan><tspan dy="4.2">U/</tspan><tspan font-size="11.5" dy="-4.2" dx="2">206</tspan><tspan dy="4.2">Pb</tspan></text>
<text transform="translate(961.3 591.4) rotate(-90)" font-size="15.6" font-weight="bold" text-anchor="middle" fill="#141414" letter-spacing="0"><tspan font-size="12" dy="-3.5">207</tspan><tspan dy="3.5">Pb/</tspan><tspan font-size="12" dy="-3.5">206</tspan><tspan dy="3.5">Pb</tspan></text>
</g>
</svg></body></html>
